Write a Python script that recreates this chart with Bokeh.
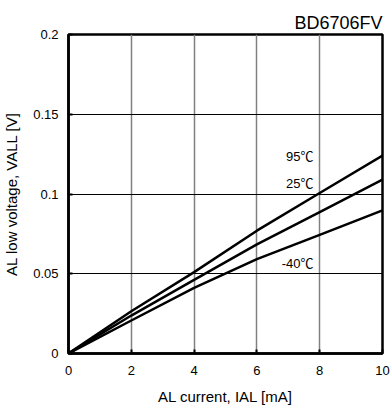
from bokeh.plotting import figure
from bokeh.models import Range1d, FixedTicker, Label
from bokeh.embed import file_html
from bokeh.resources import INLINE

x_ma = [0, 2, 4, 6, 8, 10]
v_95 = [0.0, 0.0265, 0.0510, 0.0770, 0.1006, 0.1241]
v_25 = [0.0, 0.0238, 0.0462, 0.0684, 0.0886, 0.1091]
v_m40 = [0.0, 0.0207, 0.0412, 0.0592, 0.0744, 0.0897]
labels = ["95℃", "25℃", "-40℃"]
label_x = [7.8, 7.8, 7.8]
label_y = [0.1235, 0.1066, 0.0566]
x_ticks = [0, 2, 4, 6, 8, 10]
y_ticks = [0, 0.05, 0.1, 0.15, 0.2]

FONT = "Liberation Sans"
LABEL_FONT = "Liberation Sans, Noto Sans CJK JP"

p = figure(width=390, height=411, output_backend="svg", toolbar_location=None,
           x_range=Range1d(0, 10), y_range=Range1d(0, 0.2),
           min_border_left=68, min_border_right=8, min_border_top=34, min_border_bottom=58,
           title="BD6706FV")
p.title.align = "right"
p.title.text_font = FONT
p.title.text_font_size = "18px"
p.title.text_font_style = "normal"
p.title.text_color = "black"
p.title.standoff = 4

p.outline_line_color = "black"
p.outline_line_width = 2.5
p.background_fill_color = "white"
p.border_fill_color = "white"

p.xaxis.ticker = FixedTicker(ticks=x_ticks)
p.yaxis.ticker = FixedTicker(ticks=y_ticks)
p.xaxis.major_label_overrides = {0: "0", 2: "2", 4: "4", 6: "6", 8: "8", 10: "10"}
p.yaxis.major_label_overrides = {0: "0", 0.05: "0.05", 0.1: "0.1", 0.15: "0.15", 0.2: "0.2"}
for ax in (p.xaxis, p.yaxis):
    ax.axis_line_color = "black"
    ax.axis_line_width = 2.5
    ax.major_tick_in = 4
    ax.major_tick_out = 0
    ax.major_tick_line_width = 2
    ax.major_tick_line_color = "black"
    ax.minor_tick_line_color = None
    ax.major_label_text_font = FONT
    ax.major_label_text_font_size = "13px"
    ax.major_label_text_color = "black"
    ax.axis_label_text_font = FONT
    ax.axis_label_text_font_size = "15px"
    ax.axis_label_text_font_style = "normal"
    ax.axis_label_text_color = "black"
p.xaxis.major_label_standoff = 12
p.yaxis.major_label_standoff = 10
p.xaxis.axis_label = "AL current, IAL [mA]"
p.yaxis.axis_label = "AL low voltage, VALL [V]"
p.xaxis.axis_label_standoff = 10
p.yaxis.axis_label_standoff = 10

p.xgrid.grid_line_color = "#808080"
p.xgrid.grid_line_width = 1.5
p.ygrid.grid_line_color = "black"
p.ygrid.grid_line_width = 1

for ys in (v_95, v_25, v_m40):
    p.line(x_ma, ys, line_color="black", line_width=2.5, line_join="round")

for t, lx, ly in zip(labels, label_x, label_y):
    p.add_layout(Label(x=lx, y=ly, text=t, text_align="right", text_baseline="middle",
                       text_font=LABEL_FONT, text_font_size="13px", text_color="black"))

open("out.html", "w").write(file_html(p, INLINE))
